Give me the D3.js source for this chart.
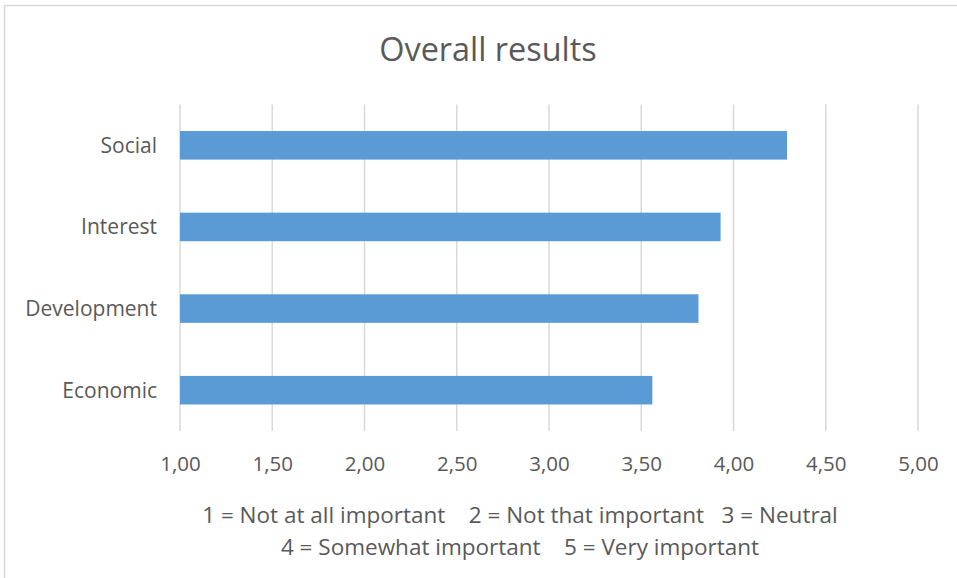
<!DOCTYPE html>
<html>
<head>
<meta charset="utf-8">
<script src="https://cdn.jsdelivr.net/npm/d3@7"></script>
<style>
html,body{margin:0;padding:0;background:#fff;}
svg{display:block;font-family:"Open Sans",sans-serif;}
</style>
</head>
<body>
<svg id="chart" width="957" height="578"></svg>
<script>
const categories = ["Social", "Interest", "Development", "Economic"];
const values = [4.29, 3.93, 3.81, 3.56];
const tickValues = [1.0, 1.5, 2.0, 2.5, 3.0, 3.5, 4.0, 4.5, 5.0];
const tickLabels = ["1,00", "1,50", "2,00", "2,50", "3,00", "3,50", "4,00", "4,50", "5,00"];
const title = "Overall results";
const noteLines = [
  "1 = Not at all important    2 = Not that important   3 = Neutral",
  "4 = Somewhat important    5 = Very important"
];

(function () {
const svg = d3.select("#chart");
svg.append("rect").attr("x", 4.5).attr("y", 5.5).attr("width", 1000).attr("height", 1000)
  .attr("fill", "none").attr("stroke", "#D9D9D9").attr("stroke-width", 1.5);

const pLeft = 180, pRight = 918, pTop = 104.5, pBottom = 431;
const x = d3.scaleLinear().domain([1, 5]).range([pLeft, pRight]);
const y = d3.scaleBand().domain(categories).range([pTop, pBottom]).paddingInner(0.65).paddingOuter(0.325);

svg.append("g").selectAll("line").data(tickValues).join("line")
  .attr("x1", d => x(d)).attr("x2", d => x(d))
  .attr("y1", pTop).attr("y2", pBottom)
  .attr("stroke", "#D9D9D9").attr("stroke-width", 1.5);

svg.append("g").selectAll("rect").data(categories).join("rect")
  .attr("x", x(1))
  .attr("y", d => y(d))
  .attr("width", (d, i) => x(values[i]) - x(1))
  .attr("height", y.bandwidth())
  .attr("fill", "#5B9BD5");

const xAxis = d3.axisBottom(x).tickValues(tickValues).tickFormat((d, i) => tickLabels[i]).tickSize(0).tickPadding(0);
const gx = svg.append("g").attr("transform", `translate(0,${pBottom + 39.5})`).call(xAxis);
gx.select(".domain").remove();
gx.selectAll("text").attr("font-size", 20.5).attr("fill", "#595959").attr("font-family", "Open Sans").attr("dy", 0);

const yAxis = d3.axisLeft(y).tickSize(0).tickPadding(0);
const gy = svg.append("g").attr("transform", `translate(157,0)`).call(yAxis);
gy.select(".domain").remove();
gy.selectAll("text").attr("font-size", 21).attr("fill", "#595959").attr("font-family", "Open Sans").attr("dy", "0.35em");

svg.append("text").attr("x", 488).attr("y", 61).attr("text-anchor", "middle")
  .attr("font-size", 32.4).attr("fill", "#595959").text(title);

svg.append("g").selectAll("text").data(noteLines).join("text")
  .attr("x", 520).attr("y", (d, i) => 523 + i * 32)
  .attr("text-anchor", "middle").attr("font-size", 22.5).attr("fill", "#595959")
  .style("white-space", "pre")
  .text(d => d);
})();
</script>
</body>
</html>
